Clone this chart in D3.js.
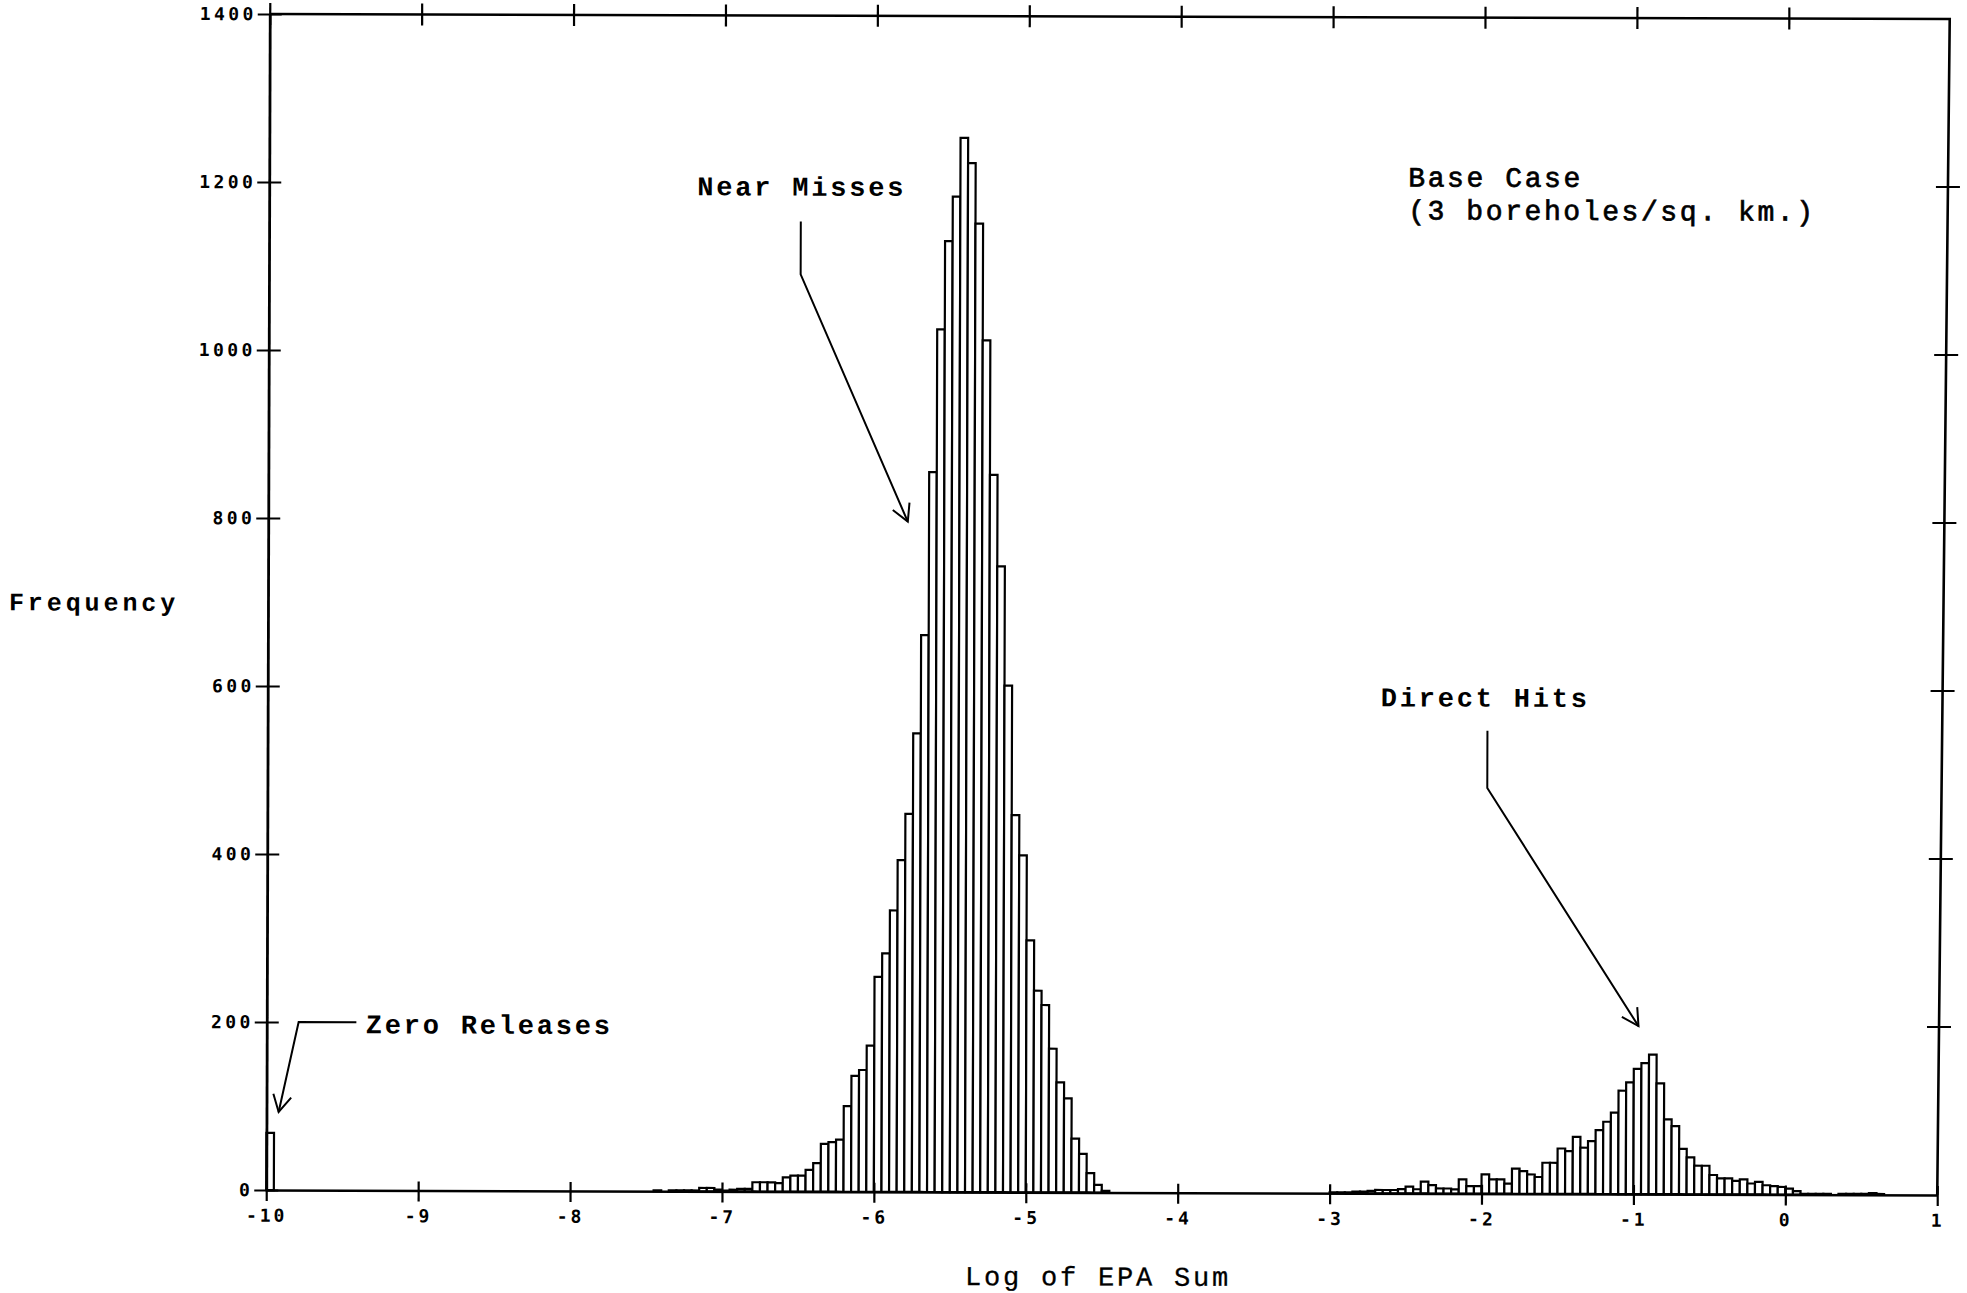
<!DOCTYPE html>
<html>
<head>
<meta charset="utf-8">
<script src="https://cdn.jsdelivr.net/npm/d3@7"></script>
<style>
  html, body { margin: 0; padding: 0; background: #fff; }
  svg { display: block; }
</style>
</head>
<body>
<svg id="chart" width="1967" height="1293"></svg>
<script>
// Histogram of log10(EPA sum), bins 0.05 wide
const binWidth = 0.05;

const zeroStart = -10;
const zeroCounts = [68];

const nearStart = -7.5;
const nearCounts = [
  0, 1, 0, 1, 1, 1, 1, 4, 4, 2,
  1, 2, 3, 3, 11, 11, 11, 10, 17, 19, 19, 26, 34, 57, 59, 62, 102, 138, 145, 174,
  256, 284, 335, 395, 450, 546, 663, 857, 1027, 1132, 1185, 1255, 1225, 1153, 1014, 854, 745, 603, 449, 401,
  300, 240, 223, 171, 131, 112, 64, 46, 23, 9, 2
];

const directStart = -3.0;
const directCounts = [
  1, 1, 1, 2, 2, 3, 4, 4, 4, 5, 8, 5, 14, 10, 6, 6, 5, 17, 9, 9,
  23, 17, 17, 12, 30, 27, 23, 20, 37, 37, 54, 51, 68, 55, 63, 76, 86, 97, 123, 133,
  149, 156, 166, 132, 89, 81, 54, 44, 34, 34, 23, 19, 19, 16, 18, 13, 15, 11, 10, 9,
  7, 4, 1, 1, 1, 1, 0, 1, 1, 1, 1, 2, 1
];

const xTicks = [-10, -9, -8, -7, -6, -5, -4, -3, -2, -1, 0, 1];
const yTicks = [0, 200, 400, 600, 800, 1000, 1200, 1400];

const FONT = "'Liberation Mono', 'Courier New', monospace";
const TICKFONT = "'DejaVu Sans Mono', 'Liberation Mono', monospace";

const svg = d3.select('#chart');
// the whole sheet sits very slightly turned on the page
const sheet = svg.append('g').attr('transform', 'translate(0,1.5) rotate(0.17,1100,600)');

const x = d3.scaleLinear().domain([-10, 1]).range([268, 1939]);
const y = d3.scaleLinear().domain([0, 1400]).range([1191, 15]);

function toBins(start, counts) {
  return counts.map((c, i) => ({ x0: start + i * binWidth, x1: start + (i + 1) * binWidth, count: c }));
}
const allBins = [
  ...toBins(zeroStart, zeroCounts),
  ...toBins(nearStart, nearCounts),
  ...toBins(directStart, directCounts)
].filter(d => d.count > 0);

// bars
sheet.append('g')
  .selectAll('rect')
  .data(allBins)
  .join('rect')
  .attr('x', d => x(d.x0))
  .attr('width', d => x(d.x1) - x(d.x0))
  .attr('y', d => y(d.count))
  .attr('height', d => y(0) - y(d.count))
  .attr('fill', '#fff')
  .attr('stroke', '#000')
  .attr('stroke-width', 2.2);

// left axis
const leftAxis = sheet.append('g')
  .attr('transform', `translate(${x(-10)},0)`)
  .call(d3.axisLeft(y).tickValues(yTicks).tickSizeInner(12).tickSizeOuter(0).tickPadding(1).tickFormat(d => String(d)));
leftAxis.select('.domain').attr('stroke-width', 2.8);
leftAxis.selectAll('.tick line').attr('x2', -12).attr('x1', 12).attr('stroke-width', 2);
leftAxis.selectAll('.tick text')
  .attr('font-family', TICKFONT).attr('font-weight', 'bold').attr('font-size', 18)
  .attr('letter-spacing', 3.4).attr('fill', '#000');

// bottom axis
const bottomAxis = sheet.append('g')
  .attr('transform', `translate(0,${y(0)})`)
  .call(d3.axisBottom(x).tickValues(xTicks).tickSizeInner(11).tickSizeOuter(0).tickPadding(8).tickFormat(d => String(d)));
bottomAxis.select('.domain').attr('stroke-width', 2.5);
bottomAxis.selectAll('.tick line').attr('y1', -9).attr('stroke-width', 2.2);
bottomAxis.selectAll('.tick text')
  .attr('font-family', TICKFONT).attr('font-weight', 'bold').attr('font-size', 18)
  .attr('letter-spacing', 3).attr('fill', '#000');

// top axis (ticks only, no labels)
const topAxis = sheet.append('g')
  .attr('transform', `translate(0,${y(1400)})`)
  .call(d3.axisTop(x).tickValues(xTicks.slice(0, -1)).tickSizeInner(11).tickSizeOuter(0).tickFormat(''));
topAxis.select('.domain').remove();
topAxis.selectAll('.tick line').attr('y1', 11).attr('stroke-width', 2.2);

// frame: top edge and the right edge
const topRight = [x(1) + 9, y(1400)];
const bottomRight = [x(1), y(0)];
sheet.append('path')
  .attr('d', d3.line()([[x(-10), y(1400)], topRight, bottomRight]))
  .attr('fill', 'none').attr('stroke', '#000').attr('stroke-width', 2.6);

// right edge ticks
const rightX = v => topRight[0] + (bottomRight[0] - topRight[0]) * (y(v) - topRight[1]) / (bottomRight[1] - topRight[1]);
sheet.append('g').selectAll('line')
  .data(yTicks.slice(1, -1))
  .join('line')
  .attr('x1', v => rightX(v) - 12).attr('x2', v => rightX(v) + 12)
  .attr('y1', v => y(v)).attr('y2', v => y(v))
  .attr('stroke', '#000').attr('stroke-width', 2);

// axis titles
sheet.append('text')
  .attr('x', 9).attr('y', 612)
  .attr('font-family', FONT).attr('font-weight', 'bold').attr('font-size', 25)
  .attr('letter-spacing', 3.9)
  .text('Frequency');

sheet.append('text')
  .attr('x', 967).attr('y', 1284)
  .attr('font-family', FONT).attr('font-size', 27)
  .attr('letter-spacing', 2.8)
  .attr('stroke', '#000').attr('stroke-width', 0.3)
  .text('Log of EPA Sum');

// case description
const caseLines = ['Base Case', '(3 boreholes/sq. km.)'];
sheet.append('g').selectAll('text')
  .data(caseLines)
  .join('text')
  .attr('x', 1407).attr('y', (d, i) => 184 + i * 33)
  .attr('font-family', FONT).attr('font-size', 28)
  .attr('stroke', '#000').attr('stroke-width', 0.7)
  .attr('letter-spacing', 2.6)
  .text(d => d);

// annotations with elbowed arrows (points in data units)
const annotations = [
  { label: 'Near Misses', lx: 696, ly: 195, pts: [[-6.5, 1155], [-6.5, 1092], [-5.79, 798]] },
  { label: 'Direct Hits', lx: 1381, ly: 704, pts: [[-1.97, 551], [-1.97, 483], [-0.97, 200]] },
  { label: 'Zero Releases', lx: 367, ly: 1034, pts: [[-9.41, 200], [-9.79, 200], [-9.92, 93]] }
];

const ann = sheet.append('g');
annotations.forEach(a => {
  ann.append('text')
    .attr('x', a.lx).attr('y', a.ly)
    .attr('font-family', FONT).attr('font-weight', 'bold').attr('font-size', 27)
    .attr('letter-spacing', 2.8)
    .text(a.label);
  const p = a.pts.map(([u, v]) => [x(u), y(v)]);
  ann.append('path')
    .attr('d', d3.line()(p))
    .attr('fill', 'none').attr('stroke', '#000').attr('stroke-width', 2);
  // open arrowhead
  const tip = p[p.length - 1], prev = p[p.length - 2];
  const ang = Math.atan2(prev[1] - tip[1], prev[0] - tip[0]);
  const len = 19, spread = 0.5;
  const head = [
    [tip[0] + len * Math.cos(ang + spread), tip[1] + len * Math.sin(ang + spread)],
    tip,
    [tip[0] + len * Math.cos(ang - spread), tip[1] + len * Math.sin(ang - spread)]
  ];
  ann.append('path')
    .attr('d', d3.line()(head))
    .attr('fill', 'none').attr('stroke', '#000').attr('stroke-width', 2);
});
</script>
</body>
</html>
